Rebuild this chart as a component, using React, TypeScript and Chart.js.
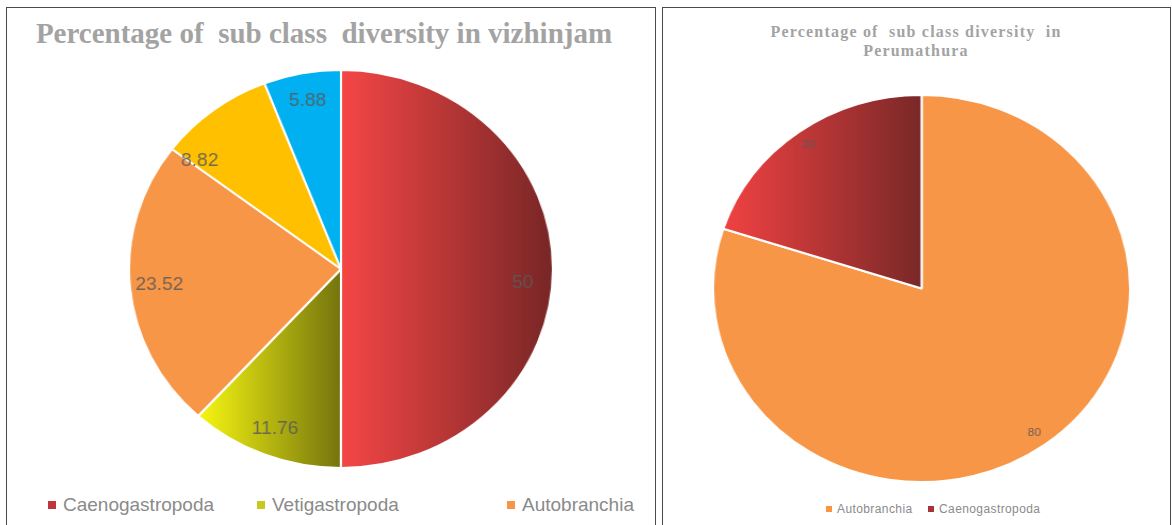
import React, { useEffect, useRef } from "react";
import { Chart, registerables } from "chart.js";

Chart.register(...registerables);

// ---------- data ----------
const vizCategories = ["Caenogastropoda", "Vetigastropoda", "Autobranchia", "Heterobranchia", "Neritimorpha"];
const vizValues = [50, 11.76, 23.52, 8.82, 5.88];
const vizLegendItems = ["Caenogastropoda", "Vetigastropoda", "Autobranchia"];
const vizTitle = "Percentage of  sub class  diversity in vizhinjam";

const perCategories = ["Autobranchia", "Caenogastropoda"];
const perValues = [80, 20];
const perTitleLines = ["Percentage of  sub class diversity  in", "Perumathura"];

// ---------- styles ----------
type Fill = string | [string, string];
const vizFills: Fill[] = [["#F64646", "#772626"], ["#F8F812", "#74740E"], "#F79646", "#FFC000", "#00B0F0"];
const vizLegendColors = ["#C0353A", "#C8C81E", "#F79646"];
const perFills: Fill[] = ["#F79646", ["#F24242", "#7A2828"]];
const perLegendColors = ["#F79646", "#A8323A"];

function sectorFill(ctx: any, fill: Fill) {
  if (typeof fill === "string") return fill;
  const chart = ctx.chart;
  const area = chart.chartArea;
  if (!area) return fill[0];
  const data = chart.data.datasets[ctx.datasetIndex].data as number[];
  const total = data.reduce((a, b) => a + b, 0);
  let before = 0;
  for (let i = 0; i < ctx.dataIndex; i++) before += data[i];
  const a0 = -Math.PI / 2 + (2 * Math.PI * before) / total;
  const a1 = a0 + (2 * Math.PI * data[ctx.dataIndex]) / total;
  const cx = (area.left + area.right) / 2;
  const r = Math.min(area.width, area.height) / 2;
  const xs = [cx, cx + r * Math.cos(a0), cx + r * Math.cos(a1)];
  for (const k of [0, Math.PI, 2 * Math.PI]) if (k > a0 && k < a1) xs.push(cx + r * Math.cos(k));
  const minX = Math.min(...xs);
  const maxX = Math.max(...xs);
  const g = chart.ctx.createLinearGradient(minX, 0, maxX, 0);
  g.addColorStop(0, fill[0]);
  g.addColorStop(1, fill[1]);
  return g;
}

const valueLabels = {
  id: "valueLabels",
  afterDatasetsDraw(chart: any, _args: any, opts: any) {
    const meta = chart.getDatasetMeta(0);
    const data = chart.data.datasets[0].data as number[];
    const c = chart.ctx;
    c.save();
    c.font = opts.font;
    c.fillStyle = opts.color;
    c.textAlign = "center";
    c.textBaseline = "middle";
    meta.data.forEach((arc: any, i: number) => {
      const p = arc.getProps(["x", "y", "startAngle", "endAngle", "outerRadius"], true);
      const mid = (p.startAngle + p.endAngle) / 2 + ((opts.shift && opts.shift[i]) || 0);
      const rr = p.outerRadius * opts.radius;
      c.fillText(String(data[i]), p.x + Math.cos(mid) * rr, p.y + Math.sin(mid) * rr);
    });
    c.restore();
  },
};

interface PieProps {
  labels: string[];
  values: number[];
  fills: Fill[];
  size: number;
  left: number;
  top: number;
  scaleX: number;
  labelFont: string;
  labelColor: string;
  labelRadius: number;
  labelShift?: Record<number, number>;
}

function Pie(props: PieProps) {
  const ref = useRef<HTMLCanvasElement>(null);
  useEffect(() => {
    if (!ref.current) return;
    const chart = new Chart(ref.current, {
      type: "pie",
      data: {
        labels: props.labels,
        datasets: [
          {
            data: props.values,
            backgroundColor: (ctx: any) => sectorFill(ctx, props.fills[ctx.dataIndex]),
            borderColor: "#ffffff",
            borderWidth: 2,
          },
        ],
      },
      options: {
        responsive: false,
        maintainAspectRatio: false,
        animation: false,
        layout: { padding: 0 },
        plugins: {
          legend: { display: false },
          title: { display: false },
          tooltip: { enabled: false },
          valueLabels: {
            font: props.labelFont,
            color: props.labelColor,
            radius: props.labelRadius,
            shift: props.labelShift || {},
          },
        } as any,
      },
      plugins: [valueLabels],
    });
    return () => chart.destroy();
  }, []);
  return (
    <div
      style={{
        position: "absolute",
        left: props.left,
        top: props.top,
        width: props.size,
        height: props.size,
        transform: `scaleX(${props.scaleX})`,
        transformOrigin: "left top",
      }}
    >
      <canvas ref={ref} width={props.size} height={props.size} style={{ width: props.size, height: props.size }} />
    </div>
  );
}

function LegendItem(p: { x: number; y: number; color: string; text: string; size: number; box: number; gap: number; spacing?: number }) {
  return (
    <div
      style={{
        position: "absolute",
        left: p.x,
        top: p.y - 12,
        height: 24,
        display: "flex",
        alignItems: "center",
        whiteSpace: "nowrap",
        fontFamily: "'Liberation Sans', Arial, sans-serif",
        fontSize: p.size,
        letterSpacing: p.spacing || 0,
        color: "#8a8a8a",
      }}
    >
      <span style={{ display: "inline-block", width: p.box, height: p.box, background: p.color, marginRight: p.gap }} />
      {p.text}
    </div>
  );
}

export default function App() {
  const vizLegendX = [48, 257, 507];
  const perLegendX = [826, 928];
  return (
    <div
      style={{
        position: "absolute",
        left: 0,
        top: 0,
        width: 1172,
        height: 525,
        overflow: "hidden",
        background: "#ffffff",
      }}
    >
      {/* panels */}
      <div
        style={{
          position: "absolute",
          left: 6,
          top: 7,
          width: 650,
          height: 600,
          border: "1.5px solid #4a4a4a",
          boxSizing: "border-box",
        }}
      />
      <div
        style={{
          position: "absolute",
          left: 662,
          top: 7,
          width: 509,
          height: 600,
          border: "1.5px solid #4a4a4a",
          boxSizing: "border-box",
        }}
      />

      {/* left title */}
      <div
        style={{
          position: "absolute",
          left: -26,
          width: 700,
          top: 16,
          lineHeight: "34px",
          textAlign: "center",
          fontFamily: "'Liberation Serif', 'Times New Roman', serif",
          fontWeight: "bold",
          fontSize: 29,
          color: "#a3a3a3",
          whiteSpace: "pre",
        }}
      >
        {vizTitle}
      </div>

      {/* right title */}
      <div
        style={{
          position: "absolute",
          left: 716,
          width: 400,
          top: 22,
          lineHeight: "19px",
          textAlign: "center",
          fontFamily: "'Liberation Serif', 'Times New Roman', serif",
          fontWeight: "bold",
          fontSize: 16,
          letterSpacing: 1.2,
          color: "#a3a3a3",
          whiteSpace: "pre",
        }}
      >
        {perTitleLines.map((l, i) => (
          <div key={i}>{l}</div>
        ))}
      </div>

      <Pie
        labels={vizCategories}
        values={vizValues}
        fills={vizFills}
        size={400}
        left={128}
        top={69}
        scaleX={1.065}
        labelFont="18px 'Liberation Sans', Arial, sans-serif"
        labelColor="rgba(90,90,90,0.85)"
        labelRadius={0.86}
        labelShift={{ 0: 0.08, 3: -0.24 }}
      />

      <Pie
        labels={perCategories}
        values={perValues}
        fills={perFills}
        size={389}
        left={712}
        top={94}
        scaleX={1.0775}
        labelFont="11px 'Liberation Sans', Arial, sans-serif"
        labelColor="rgba(90,90,90,0.9)"
        labelRadius={0.92}
      />

      {vizLegendItems.map((t, i) => (
        <LegendItem key={t} x={vizLegendX[i]} y={505} color={vizLegendColors[i]} text={t} size={19} box={8} gap={7} />
      ))}
      {perCategories.map((t, i) => (
        <LegendItem key={t} x={perLegendX[i]} y={509} color={perLegendColors[i]} text={t} size={12} box={6} gap={5} spacing={0.4} />
      ))}
    </div>
  );
}
